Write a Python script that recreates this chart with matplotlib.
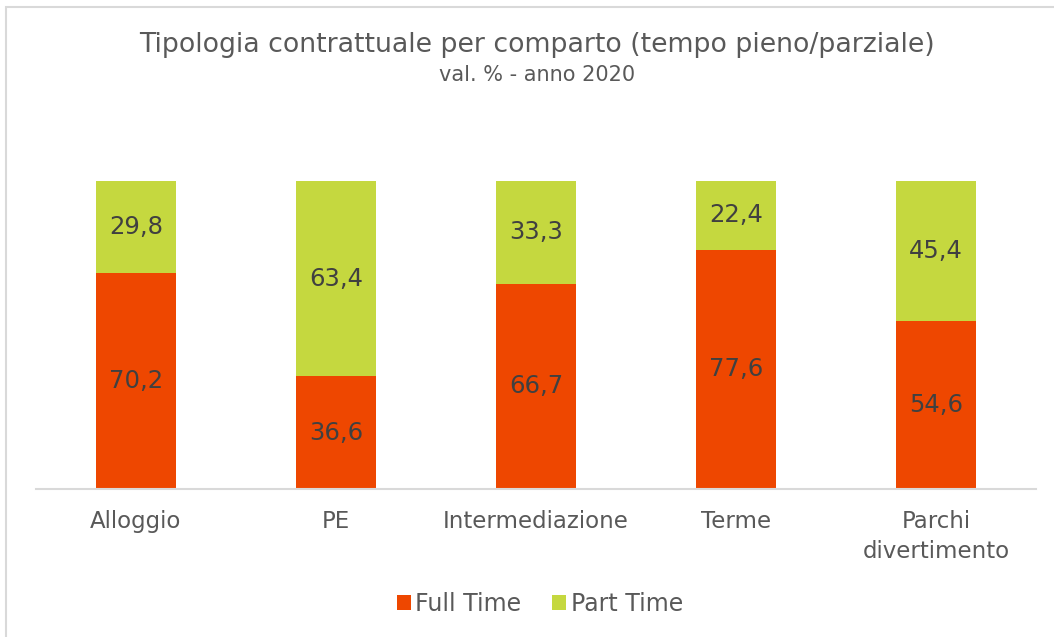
import numpy as np
import matplotlib
matplotlib.use("Agg")
from matplotlib import pyplot as plt
from matplotlib.patches import Rectangle

# dati
categorie = ["Alloggio", "PE", "Intermediazione", "Terme", "Parchi\ndivertimento"]
full_time = [70.2, 36.6, 66.7, 77.6, 54.6]
part_time = [29.8, 63.4, 33.3, 22.4, 45.4]

col_full = "#EE4700"
col_part = "#C5D83F"
col_testo = "#595959"
col_val = "#404040"

plt.rcParams['font.family'] = ['DejaVu Sans']

fig = plt.figure(figsize=(10.54, 6.37), dpi=100)
ax = fig.add_axes([36 / 1054, 148 / 637, 1000 / 1054, 308 / 637])

x = np.arange(len(categorie))
b1 = ax.bar(x, full_time, width=0.4, color=col_full, label="Full Time")
b2 = ax.bar(x, part_time, width=0.4, bottom=full_time, color=col_part, label="Part Time")

for barre in (b1, b2):
    ax.bar_label(barre, labels=[f"{v:.1f}".replace(".", ",") for v in barre.datavalues],
                 label_type="center", fontsize=17.5, color=col_val)

ax.set_xlim(-0.5, len(categorie) - 0.5)
ax.set_ylim(0, 100)
ax.set_yticks([])
ax.set_xticks(x)
ax.set_xticklabels(categorie, fontsize=16.5, color=col_testo, linespacing=1.4)
ax.tick_params(axis="x", length=0, pad=15)
for s in ("top", "right", "left"):
    ax.spines[s].set_visible(False)
ax.spines["bottom"].set_color("#D9D9D9")
ax.spines["bottom"].set_linewidth(1.5)

fig.text(537 / 1054, 1 - 45 / 637, "Tipologia contrattuale per comparto (tempo pieno/parziale)",
         ha="center", va="center", fontsize=19.3, color=col_testo)
fig.text(537 / 1054, 1 - 75 / 637, "val. % - anno 2020",
         ha="center", va="center", fontsize=15, color=col_testo)

fig.legend(loc="center", bbox_to_anchor=(540 / 1054, 1 - 604 / 637), ncol=2, frameon=False,
           fontsize=17, labelcolor=col_testo, handlelength=0.6, handleheight=0.6,
           handletextpad=0.2, columnspacing=1.3)

# cornice grigia
fig.patches.append(Rectangle((6 / 1054, -0.1), 1.2, 1 - 7 / 637 + 0.1, transform=fig.transFigure,
                             fill=False, edgecolor="#D9D9D9", linewidth=1.5))

fig.savefig("out.png", dpi=100)
